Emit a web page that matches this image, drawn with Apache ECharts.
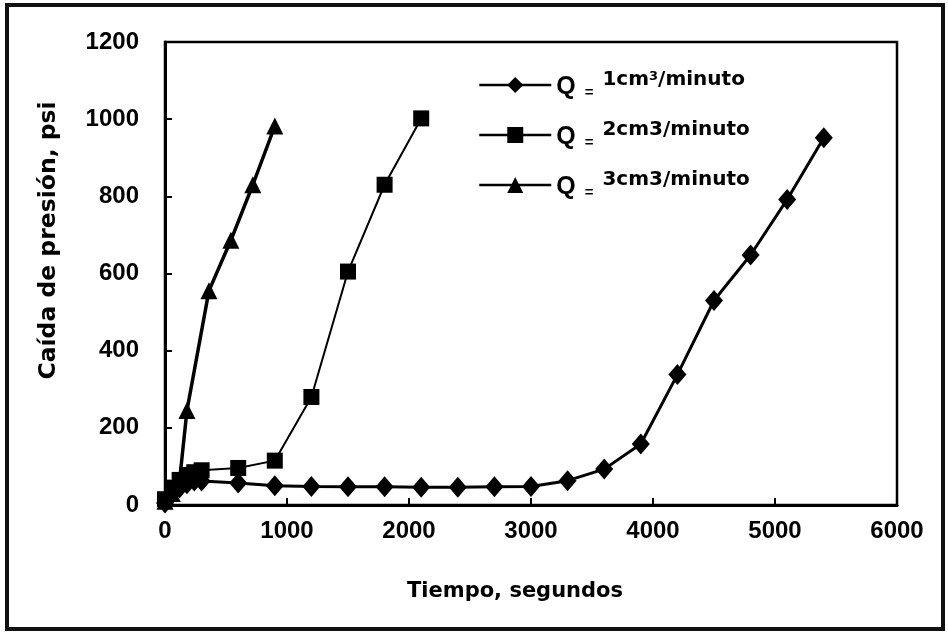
<!DOCTYPE html>
<html>
<head>
<meta charset="utf-8">
<script src="https://cdn.jsdelivr.net/npm/echarts@6/dist/echarts.min.js"></script>
<style>
html,body{margin:0;padding:0;background:#fff;}
#chart{width:948px;height:634px;}
</style>
</head>
<body>
<div id="chart"></div>
<script>
// Data (time in s, pressure drop in psi)
const seriesNames = ['Q = 1cm3/minuto', 'Q = 2cm3/minuto', 'Q = 3cm3/minuto'];
const q1Time  = [0, 60, 120, 180, 240, 300, 600, 900, 1200, 1500, 1800, 2100, 2400, 2700, 3000, 3300, 3600, 3900, 4200, 4500, 4800, 5100, 5400];
const q1Press = [5, 30, 45, 55, 62, 62, 57, 50, 48, 47, 47, 46, 46, 47, 48, 63, 93, 158, 338, 530, 648, 792, 952];
const q2Time  = [0, 60, 120, 180, 240, 300, 600, 900, 1200, 1500, 1800, 2100];
const q2Press = [15, 45, 65, 78, 85, 90, 96, 115, 280, 605, 830, 1002];
const q3Time  = [0, 60, 120, 180, 360, 540, 720, 900];
const q3Press = [10, 30, 65, 245, 555, 686, 830, 982];
const xTicks = {min: 0, max: 6000, interval: 1000};
const yTicks = {min: 0, max: 1200, interval: 200};

const zip = (a, b) => a.map((v, i) => [v, b[i]]);
const FONT = "'Liberation Sans', Arial, sans-serif";
const WIDE = "'DejaVu Sans', Verdana, sans-serif";

const chart = echarts.init(document.getElementById('chart'));
const legendLabel = {
  'Q = 1cm3/minuto': '{q|Q}{e|=}{t|1cm}{s|3}{t|/minuto}',
  'Q = 2cm3/minuto': '{q|Q}{e|=}{t|2cm3/minuto}',
  'Q = 3cm3/minuto': '{q|Q}{e|=}{t|3cm3/minuto}'
};
chart.setOption({
  backgroundColor: '#fff',
  animation: false,
  graphic: [{
    type: 'rect',
    shape: {x: 7, y: 5, width: 936, height: 624},
    style: {fill: 'none', stroke: '#111', lineWidth: 4},
    silent: true
  }],
  grid: {left: 165, right: 51, top: 42, bottom: 129, show: true, borderColor: '#000', borderWidth: 2.5},
  legend: {
    orient: 'vertical',
    left: 478, top: 70, padding: 0,
    itemWidth: 72, itemHeight: 20, itemGap: 20,
    data: seriesNames,
    formatter: n => legendLabel[n],
    lineStyle: {width: 2.5},
    textStyle: {
      color: '#000', fontFamily: FONT,
      rich: {
        q: {fontSize: 25, fontWeight: 'bold', fontFamily: FONT, color: '#000', verticalAlign: 'bottom', lineHeight: 30},
        e: {fontSize: 15, fontWeight: 'bold', fontFamily: FONT, color: '#000', verticalAlign: 'bottom', lineHeight: 27, padding: [0, 9, 0, 9]},
        t: {fontSize: 20, fontWeight: 'bold', fontFamily: WIDE, color: '#000', verticalAlign: 'top', lineHeight: 22},
        s: {fontSize: 13, fontWeight: 'bold', fontFamily: WIDE, color: '#000', verticalAlign: 'top', lineHeight: 18}
      }
    }
  },
  xAxis: {
    type: 'value', min: xTicks.min, max: xTicks.max, interval: xTicks.interval,
    name: 'Tiempo, segundos', nameLocation: 'middle', nameGap: 76,
    nameTextStyle: {fontFamily: WIDE, fontSize: 21, fontWeight: 'bold', color: '#000', padding: [0, 32, 0, 0]},
    axisLine: {lineStyle: {color: '#000', width: 3}},
    axisTick: {inside: true, length: 7, lineStyle: {color: '#000', width: 2}},
    axisLabel: {fontFamily: FONT, fontSize: 24, fontWeight: 'bold', color: '#000', margin: 14, formatter: v => String(v)},
    splitLine: {show: false}
  },
  yAxis: {
    type: 'value', min: yTicks.min, max: yTicks.max, interval: yTicks.interval,
    name: 'Caída de presión, psi', nameLocation: 'middle', nameGap: 104, nameRotate: 90,
    nameTextStyle: {fontFamily: WIDE, fontSize: 23.5, fontWeight: 'bold', color: '#000', padding: [0, 0, 0, 66]},
    axisLine: {lineStyle: {color: '#000', width: 3}},
    axisTick: {inside: true, length: 7, lineStyle: {color: '#000', width: 2}},
    axisLabel: {fontFamily: FONT, fontSize: 24, fontWeight: 'bold', color: '#000', margin: 26, formatter: v => String(v)},
    splitLine: {show: false}
  },
  series: [
    {
      name: seriesNames[0], type: 'line', data: zip(q1Time, q1Press),
      symbol: 'diamond', symbolSize: [18, 21],
      lineStyle: {color: '#000', width: 3}, itemStyle: {color: '#000'}, z: 3
    },
    {
      name: seriesNames[1], type: 'line', data: zip(q2Time, q2Press),
      symbol: 'rect', symbolSize: 16,
      lineStyle: {color: '#000', width: 2}, itemStyle: {color: '#000'}, z: 2
    },
    {
      name: seriesNames[2], type: 'line', data: zip(q3Time, q3Press),
      symbol: 'triangle', symbolSize: 17,
      lineStyle: {color: '#000', width: 3.5}, itemStyle: {color: '#000'}, z: 4
    }
  ]
});
</script>
</body>
</html>
